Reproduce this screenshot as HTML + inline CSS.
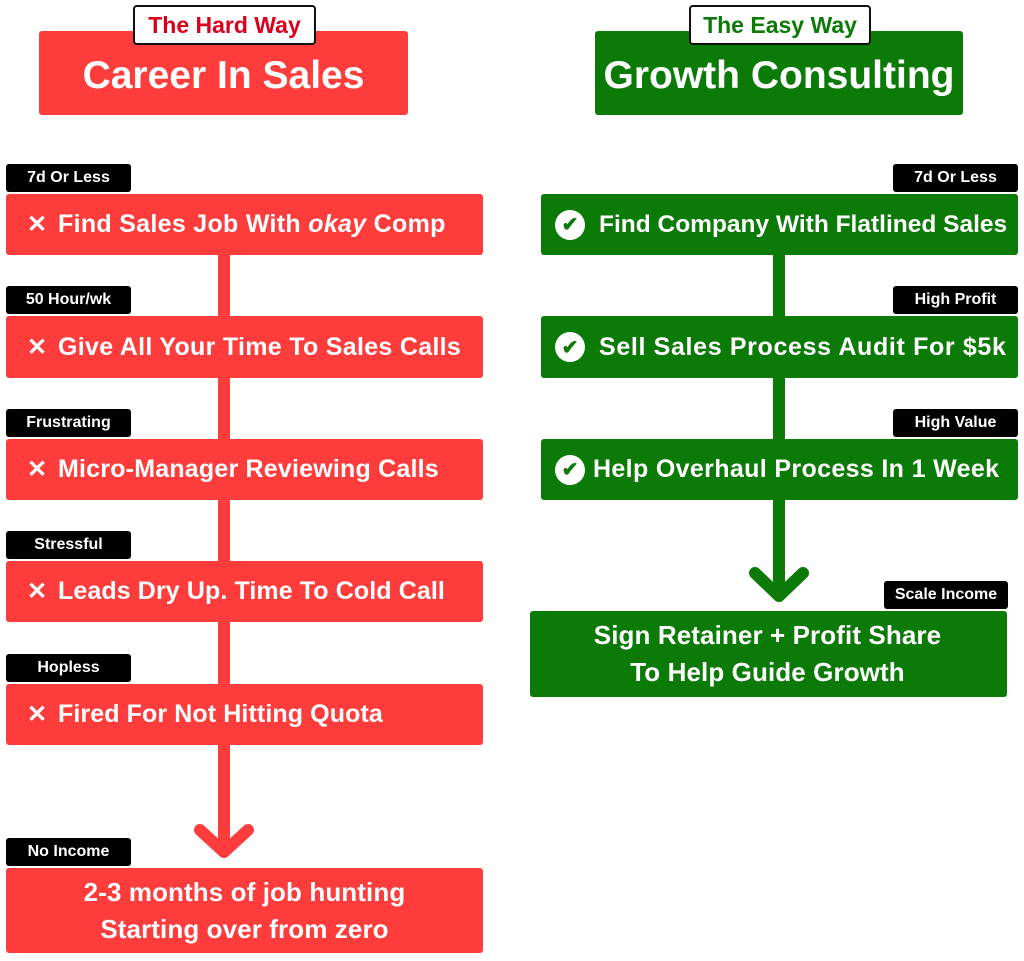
<!DOCTYPE html>
<html><head><meta charset="utf-8"><style>
body{margin:0;width:1024px;height:961px;background:#fff;position:relative;font-family:"Liberation Sans",Arial,sans-serif;font-weight:bold;overflow:hidden}
.a{position:absolute;box-sizing:border-box}
.r{background:#ff3c3c;border-radius:3px}
.g{background:#0b7a07;border-radius:3px}
.title{color:#fff;font-size:39px;display:flex;align-items:center;justify-content:center;padding-top:6px}
.badge{background:#fff;border:2px solid #111;border-radius:4px;font-size:23px;display:flex;align-items:center;justify-content:center}
.tag{background:#000;color:#fff;font-size:16px;border-radius:3px;display:flex;align-items:center;justify-content:center}
.step{color:#fff;font-size:25px;letter-spacing:0.3px;display:flex;align-items:center;white-space:nowrap}
.ic{display:inline-flex;width:26px;height:28px;border-radius:50%;align-items:center;justify-content:center;margin-right:8px;font-size:24px;letter-spacing:0}
.ck{background:#fff;color:#0b7a07;font-size:20px;width:30px;height:30px;margin-right:14px}
.big{color:#fff;font-size:26px;text-align:center;line-height:37px;display:flex;flex-direction:column;justify-content:center;letter-spacing:0.1px}
</style></head><body>
<div class="a r title" style="left:39px;top:31px;width:369px;height:84px">Career In Sales</div>
<div class="a badge" style="left:133px;top:5px;width:183px;height:40px;color:#d9001b">The Hard Way</div>
<div class="a g title" style="left:595px;top:31px;width:368px;height:84px">Growth Consulting</div>
<div class="a badge" style="left:689px;top:5px;width:182px;height:40px;color:#0b7a07">The Easy Way</div>

<svg class="a" style="left:0;top:0" width="1024" height="961">
<line x1="224" y1="250" x2="224" y2="850" stroke="#ff3c3c" stroke-width="12"/>
<polyline points="200,830 224,852 248,830" fill="none" stroke="#ff3c3c" stroke-width="12" stroke-linecap="round" stroke-linejoin="round"/>
<line x1="779" y1="250" x2="779" y2="594" stroke="#0b7a07" stroke-width="12"/>
<polyline points="755,573 779,596 803,573" fill="none" stroke="#0b7a07" stroke-width="12" stroke-linecap="round" stroke-linejoin="round"/>
</svg>

<div class="a tag" style="left:6px;top:164px;width:125px;height:28px">7d Or Less</div>
<div class="a r step" style="left:6px;top:194px;width:477px;height:61px;padding-left:18px;letter-spacing:0.3px"><span class="ic">✕</span>Find Sales Job With&nbsp;<i>okay</i>&nbsp;Comp</div>
<div class="a tag" style="left:6px;top:286px;width:125px;height:28px">50 Hour/wk</div>
<div class="a r step" style="left:6px;top:316px;width:477px;height:62px;padding-left:18px"><span class="ic">✕</span>Give All Your Time To Sales Calls</div>
<div class="a tag" style="left:6px;top:409px;width:125px;height:28px">Frustrating</div>
<div class="a r step" style="left:6px;top:439px;width:477px;height:61px;padding-left:18px;letter-spacing:0.2px"><span class="ic">✕</span>Micro-Manager Reviewing Calls</div>
<div class="a tag" style="left:6px;top:531px;width:125px;height:28px">Stressful</div>
<div class="a r step" style="left:6px;top:561px;width:477px;height:61px;padding-left:18px;letter-spacing:0.1px"><span class="ic">✕</span>Leads Dry Up. Time To Cold Call</div>
<div class="a tag" style="left:6px;top:654px;width:125px;height:28px">Hopless</div>
<div class="a r step" style="left:6px;top:684px;width:477px;height:61px;padding-left:18px;letter-spacing:0.1px"><span class="ic">✕</span>Fired For Not Hitting Quota</div>
<div class="a tag" style="left:6px;top:838px;width:125px;height:28px">No Income</div>
<div class="a r big" style="left:6px;top:868px;width:477px;height:85px"><div>2-3 months of job hunting</div><div>Starting over from zero</div></div>

<div class="a tag" style="left:893px;top:164px;width:125px;height:28px">7d Or Less</div>
<div class="a g step" style="left:541px;top:194px;width:477px;height:61px;padding-left:14px;letter-spacing:0;font-size:24.5px"><span class="ic ck">✔</span>Find Company With Flatlined Sales</div>
<div class="a tag" style="left:893px;top:286px;width:125px;height:28px">High Profit</div>
<div class="a g step" style="left:541px;top:316px;width:477px;height:62px;padding-left:14px;letter-spacing:0.65px"><span class="ic ck">✔</span>Sell Sales Process Audit For $5k</div>
<div class="a tag" style="left:893px;top:409px;width:125px;height:28px">High Value</div>
<div class="a g step" style="left:541px;top:439px;width:477px;height:61px;padding-left:14px;letter-spacing:0.35px"><span class="ic ck" style="margin-right:8px">✔</span>Help Overhaul Process In 1 Week</div>
<div class="a tag" style="left:884px;top:581px;width:124px;height:28px">Scale Income</div>
<div class="a g big" style="left:530px;top:611px;width:477px;height:86px;padding-right:2px"><div>Sign Retainer + Profit Share</div><div>To Help Guide Growth</div></div>
</body></html>
